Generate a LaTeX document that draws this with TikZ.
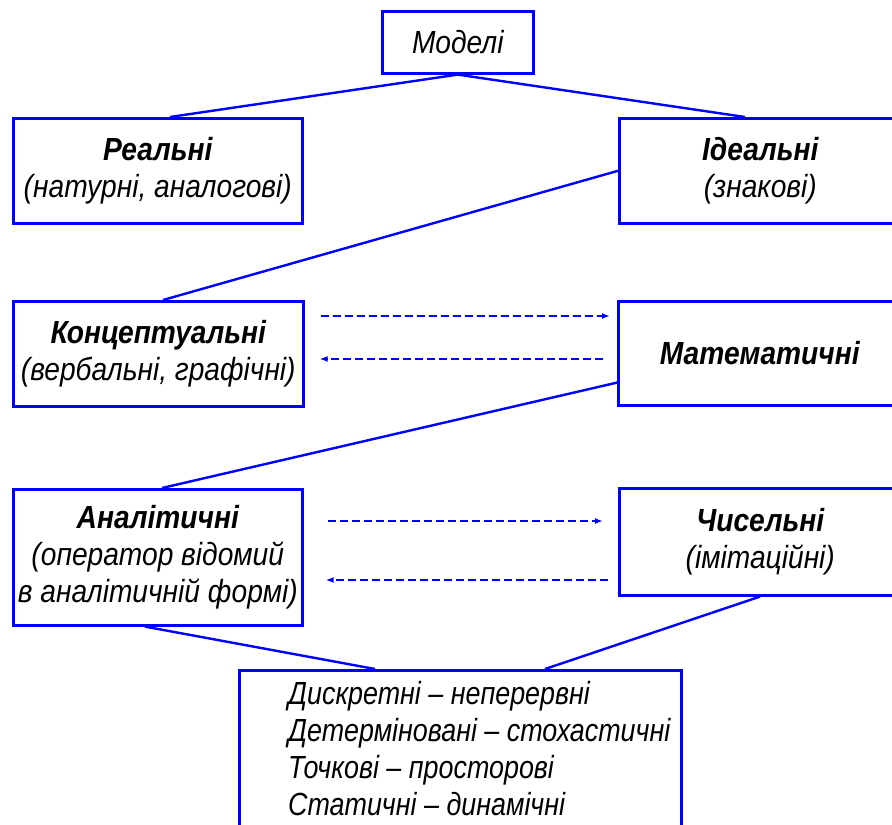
\documentclass[tikz,border=0pt]{standalone}
\usepackage{fontspec}
\newfontfamily\gostfont{Liberation Sans}[FakeStretch=0.88]
\newfontfamily\gostnarrow{Liberation Sans}[FakeStretch=0.84]
\usetikzlibrary{calc,arrows.meta}
\definecolor{schemeblue}{RGB}{0,0,255}
\begin{document}
\begin{tikzpicture}[x=1pt,y=-1pt,
  box/.style={draw=schemeblue, line width=2.6pt, rectangle, inner sep=0pt,
    anchor=north west, align=center, text=black,
    font=\gostfont\itshape\fontsize{32}{37}\selectfont},
  listtext/.style={anchor=west, align=left, inner sep=0pt, text=black,
    font=\gostnarrow\itshape\fontsize{32}{37}\selectfont},
  link/.style={draw=schemeblue, line width=2.4pt},
  relation/.style={draw=schemeblue, line width=2.6pt, dash pattern=on 8pt off 4pt,
    -{Latex[length=8pt,width=6pt]}}
]
\clip (0,0) rectangle (892,825);

% classification boxes
\node[box, minimum width=151pt, minimum height=62pt] (models) at (381,10) {Моделі};
\node[box, minimum width=289pt, minimum height=105pt] (real) at (12,117)
  {\textbf{Реальні}\\(натурні, аналогові)};
\node[box, minimum width=282pt, minimum height=105pt] (ideal) at (618,117)
  {\textbf{Ідеальні}\\(знакові)};
\node[box, minimum width=290pt, minimum height=105pt] (konc) at (12,300)
  {\textbf{Концептуальні}\\(вербальні, графічні)};
\node[box, minimum width=283pt, minimum height=104pt] (math) at (617,300)
  {\textbf{Математичні}};
\node[box, minimum width=289pt, minimum height=136pt] (anal) at (12,488)
  {\textbf{Аналітичні}\\(оператор відомий\\в аналітичній формі)};
\node[box, minimum width=282pt, minimum height=107pt] (chys) at (618,487)
  {\textbf{Чисельні}\\(імітаційні)};
\node[box, minimum width=442pt, minimum height=171pt] (disc) at (238,669) {};
\node[listtext] (disclist) at ([xshift=50pt,yshift=7pt]disc.west)
  {Дискретні – неперервні\\Детерміновані – стохастичні\\Точкові – просторові\\Статичні – динамічні};

% hierarchy links
\draw[link] (models.south) -- ([xshift=158pt]real.north west);
\draw[link] (models.south) -- ([xshift=127pt]ideal.north west);
\draw[link] (ideal.west) -- ([xshift=151pt]konc.north west);
\draw[link] ([yshift=24pt]math.south west) -- ([xshift=150pt]anal.north west);
\draw[link] ([xshift=133pt]anal.south west) -- ([xshift=137pt]disc.north west);
\draw[link] ([xshift=142pt]chys.south west) -- ([xshift=307pt]disc.north west);

% two-way relations between neighbouring classes
\draw[relation] ($(konc.north east)+(16,16)$) -- ($(math.north west)+(-7,16)$);
\draw[relation] ($(math.north west)+(-14,59)$) -- ($(konc.north east)+(15,59)$);
\draw[relation] ($(anal.north east)+(24,33)$) -- ($(chys.north west)+(-15,34)$);
\draw[relation] ($(chys.north west)+(-10,93)$) -- ($(anal.north east)+(22,92)$);
\end{tikzpicture}
\end{document}
